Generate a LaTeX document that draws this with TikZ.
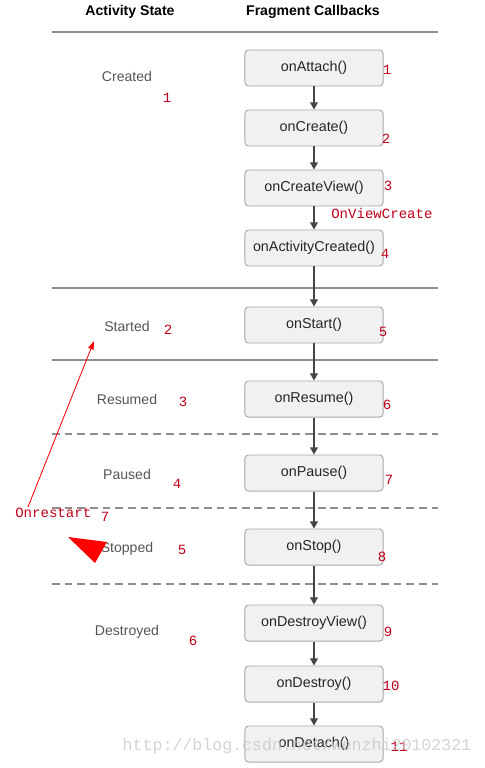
\documentclass[tikz,border=0pt]{standalone}
\usepackage{fontspec}
\setmainfont{Liberation Sans}
\newfontfamily\notefont{Liberation Mono}
\usetikzlibrary{arrows.meta, positioning}
\definecolor{cbFill}{HTML}{F1F1F1}
\definecolor{cbEdge}{HTML}{A9A9A9}
\definecolor{cbRule}{HTML}{8E8E8E}
\definecolor{cbArrow}{HTML}{454545}
\definecolor{cbState}{HTML}{555555}
\definecolor{cbNote}{HTML}{C0001A}
\definecolor{cbMark}{HTML}{C8C8C8}

\begin{document}
\begin{tikzpicture}[x=0.025cm, y=-0.025cm,
      cb/.style={draw=cbEdge, fill=cbFill, line width=0.7pt, rounded corners=2.5pt,
        minimum width=3.45cm, minimum height=0.9cm, inner sep=0pt,
        font=\fontsize{10.2}{12}\selectfont, text=black!85},
      st/.style={text=cbState, font=\fontsize{10}{12}\selectfont},
      hd/.style={font=\bfseries\fontsize{10}{12}\selectfont},
      nt/.style={text=cbNote, inner sep=0pt, font=\notefont\fontsize{10}{11}\selectfont},
      ln/.style={cbRule, line width=0.9pt},
      fl/.style={cbArrow, line width=0.9pt, -{Triangle[length=5pt, width=5.5pt]}}]
    \useasboundingbox (0,0) rectangle (485,768);
    % headers and separators
    \node[hd] (hstate) at (130,12) {Activity State};
    \node[hd] (hcall) at (313,12) {Fragment Callbacks};
    \foreach \y in {32,288,360} \draw[ln] (52,\y) -- (438,\y);
    \foreach \y in {434,508,584} \draw[ln, dash pattern=on 5.5pt off 3.5pt] (52,\y) -- (438,\y);
    % callbacks
    \foreach \n/\y/\lbl in {att/68/onAttach(), cre/128/onCreate(), cview/188/onCreateView(),
        acre/248/onActivityCreated(), sta/325/onStart(), res/399/onResume(),
        pau/473/onPause(), sto/547/onStop(), dview/623/onDestroyView(),
        des/684/onDestroy(), det/744/onDetach()}
      \node[cb] (\n) at (314,\y) {\lbl};
    \foreach \a/\b in {att/cre, cre/cview, cview/acre, acre/sta, sta/res,
        res/pau, pau/sto, sto/dview, dview/des, des/det}
      \draw[fl] (\a) -- (\b);
    % activity states
    \foreach \n/\y/\lbl in {scre/76/Created, ssta/326/Started, sres/399/Resumed,
        spau/474/Paused, ssto/549/Stopped, sdes/632/Destroyed}
      \node[st] (\n) at (127,\y) {\lbl};
    % red notes
    \foreach \n/\x/\y/\lbl in {na/167/98/1, nb/168/330/2, nc/183/402/3, nd/177/484/4,
        ne/182/550/5, nf/193/641/6, ng/105/517/7,
        ra/387/70/1, rb/386/139/2, rc/388/186/3, rd/385/254/4, re/383/332/5,
        rf/387/405/6, rg/389/480/7, rh/382/557/8, ri/388/632/9, rj/391/686/10, rk/399/747/11}
      \node[nt] (\n) at (\x,\y) {\lbl};
    \node[nt, anchor=west] (vcreate) at (331,213) {OnViewCreate};
    \node[nt, anchor=west] (restart) at (15,513) {Onrestart};
    \coordinate (rsfrom) at (28,507);
    \coordinate (rsto) at (94,341);
    \draw[red, line width=0.6pt, -{Triangle[length=6pt, width=4pt]}] (rsfrom) -- (rsto);
    \fill[red] (68,537) -- (107,542) -- (95,563) -- cycle;
    % watermark
    \node[text=cbMark, opacity=0.8, font=\notefont\fontsize{11.8}{13}\selectfont]
      (mark) at (297,746) {http://blog.csdn.net/wenzhi20102321};
  \end{tikzpicture}
\end{document}
